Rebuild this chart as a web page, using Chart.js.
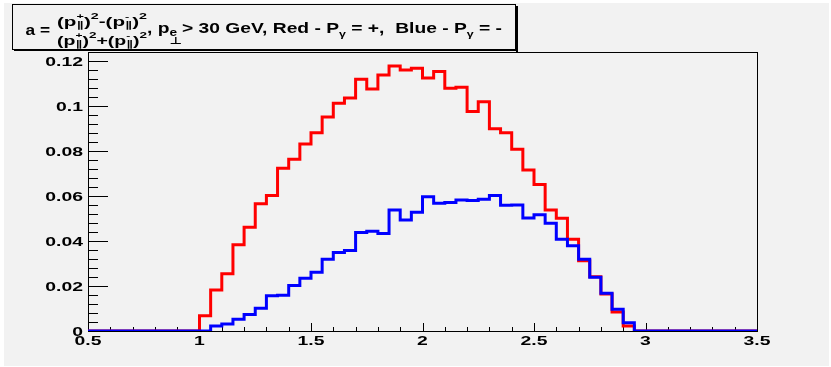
<!DOCTYPE html>
<html>
<head>
<meta charset="utf-8">
<script src="https://cdn.jsdelivr.net/npm/chart.js@4"></script>
<style>
  html, body { margin: 0; padding: 0; background: #ffffff; }
  canvas { display: block; }
</style>
</head>
<body>
<canvas id="asymChart" width="831" height="367"></canvas>
<script>
// Histogram binning: 60 bins of width 0.05 from 0.5 to 3.5
const xMin = 0.5;
const xMax = 3.5;
const binLow = Array.from({ length: 60 }, (_, i) => Math.round((xMin + i * 0.05) * 100) / 100);

// Red histogram (P_gamma = +), one value per bin
const redValues = [
    0, 0, 0, 0, 0, 0, 0, 0, 0, 0,
    0.0068, 0.0183, 0.0255, 0.0384, 0.0462, 0.0566, 0.0603, 0.0725, 0.0765, 0.0833,
    0.0883, 0.0953, 0.1014, 0.1037, 0.1121, 0.1077, 0.1140, 0.1180, 0.1162, 0.1170,
    0.1126, 0.1155, 0.1081, 0.1085, 0.0977, 0.1021, 0.0900, 0.0883, 0.0809, 0.0717,
    0.0652, 0.0539, 0.0502, 0.0408, 0.0313, 0.0242, 0.0165, 0.0085, 0.0022, 0,
    0, 0, 0, 0, 0, 0, 0, 0, 0, 0
];

// Blue histogram (P_gamma = -), one value per bin
const blueValues = [
    0, 0, 0, 0, 0, 0, 0, 0, 0, 0,
    0, 0.0022, 0.0031, 0.0052, 0.0074, 0.0101, 0.0157, 0.0159, 0.0203, 0.0235,
    0.0261, 0.0319, 0.0350, 0.0358, 0.0438, 0.0444, 0.0434, 0.0539, 0.0494, 0.0529,
    0.0598, 0.0569, 0.0572, 0.0583, 0.0581, 0.0587, 0.0603, 0.0560, 0.0561, 0.0503,
    0.0518, 0.0480, 0.0408, 0.0379, 0.0319, 0.0239, 0.0168, 0.0097, 0.0037, 0,
    0, 0, 0, 0, 0, 0, 0, 0, 0, 0
];

// Axis range and tick labels
const yMax = 0.1242;
const xTickValues = [0.5, 1, 1.5, 2, 2.5, 3, 3.5];
const xTickLabels = ['0.5', '1', '1.5', '2', '2.5', '3', '3.5'];
const yTickValues = [0, 0.02, 0.04, 0.06, 0.08, 0.1, 0.12];
const yTickLabels = ['0', '0.02', '0.04', '0.06', '0.08', '0.1', '0.12'];

const FONT_FAMILY = '"Liberation Sans", "DejaVu Sans", Arial, sans-serif';

// Turn bin contents into step points: value at each lower edge, plus the closing edge
function toSteps(values) {
    const pts = binLow.map((x, i) => ({ x: x, y: values[i] }));
    pts.push({ x: xMax, y: values[values.length - 1] });
    return pts;
}

// Draw text squeezed/stretched horizontally by sx
function drawScaledText(ctx, text, x, y, sx, align) {
    ctx.save();
    ctx.translate(x, y);
    ctx.scale(sx, 1);
    ctx.textAlign = align || 'left';
    ctx.fillText(text, 0, 0);
    ctx.restore();
}

// Lay out a list of text runs between x0 and x1 (sub/superscripts via dy, stacks for both)
function drawRuns(ctx, runs, x0, x1, baseline) {
    const widthOf = r => {
        ctx.font = `bold ${r.s}px ${FONT_FAMILY}`;
        return ctx.measureText(r.t).width;
    };
    const runWidth = r => r.stack ? Math.max(...r.stack.map(widthOf)) : widthOf(r);
    const total = runs.reduce((sum, r) => sum + runWidth(r), 0);
    const sx = (x1 - x0) / total;
    let x = x0;
    runs.forEach(r => {
        const parts = r.stack || [r];
        parts.forEach(p => {
            ctx.font = `bold ${p.s}px ${FONT_FAMILY}`;
            drawScaledText(ctx, p.t, x, baseline + (p.dy || 0), sx);
        });
        x += runWidth(r) * sx;
    });
}

// Background, frame, ticks, tick labels and the title box, ROOT style
const rootStyle = {
    id: 'rootStyle',
    beforeDraw(chart) {
        const ctx = chart.ctx;
        ctx.save();
        ctx.fillStyle = '#ffffff';
        ctx.fillRect(0, 0, chart.width, chart.height);
        ctx.fillStyle = '#f2f2f2';
        ctx.fillRect(4, 3, chart.width - 6, chart.height - 4);
        ctx.restore();
    },
    beforeDatasetsDraw(chart) {
        const ctx = chart.ctx;
        const a = chart.chartArea;
        const xs = chart.scales.x;
        const ys = chart.scales.y;
        ctx.save();
        ctx.strokeStyle = '#000000';
        ctx.lineWidth = 1;
        ctx.strokeRect(a.left + 0.5, a.top + 0.5, a.right - a.left, a.bottom - a.top);

        ctx.beginPath();
        // y ticks: major every 0.02, minor every 0.004
        for (let k = 0; k * 0.004 <= yMax + 1e-9; k++) {
            const py = Math.round(ys.getPixelForValue(k * 0.004)) + 0.5;
            const len = k % 5 === 0 ? 20 : 10;
            ctx.moveTo(a.left, py);
            ctx.lineTo(a.left + len, py);
        }
        // x ticks: major every 0.5, minor every 0.1
        for (let k = 0; k <= 30; k++) {
            const px = Math.round(xs.getPixelForValue(xMin + k * 0.1)) + 0.5;
            const len = k % 5 === 0 ? 8 : 4;
            ctx.moveTo(px, a.bottom);
            ctx.lineTo(px, a.bottom - len);
        }
        ctx.stroke();

        ctx.fillStyle = '#000000';
        ctx.font = `bold 12.5px ${FONT_FAMILY}`;
        yTickValues.forEach((v, i) => {
            drawScaledText(ctx, yTickLabels[i], a.left - 5, ys.getPixelForValue(v) + 4.5, 1.55, 'right');
        });
        xTickValues.forEach((v, i) => {
            drawScaledText(ctx, xTickLabels[i], xs.getPixelForValue(v), a.bottom + 14, 1.55, 'center');
        });
        ctx.restore();
    },
    afterDraw(chart) {
        const ctx = chart.ctx;
        ctx.save();
        // title box with shadow
        ctx.fillStyle = '#f2f2f2';
        ctx.fillRect(12, 4, 504, 46);
        ctx.fillStyle = '#000000';
        ctx.fillRect(516, 6, 2, 46);
        ctx.fillRect(14, 49, 504, 2);
        ctx.strokeStyle = '#000000';
        ctx.lineWidth = 1;
        ctx.strokeRect(12.5, 4.5, 503, 45);

        ctx.fillStyle = '#000000';
        drawRuns(ctx, [{ t: 'a =', s: 14 }], 25.5, 50, 35);

        const fracLine = (sign) => [
            { t: '(p', s: 13 },
            { stack: [{ t: '+', s: 8, dy: -7 }, { t: '\u2225', s: 9, dy: 2 }] },
            { t: ')', s: 13 },
            { t: '2', s: 9, dy: -7 },
            { t: sign, s: 13 },
            { t: '(p', s: 13 },
            { stack: [{ t: '-', s: 8, dy: -7 }, { t: '\u2225', s: 9, dy: 2 }] },
            { t: ')', s: 13 },
            { t: '2', s: 9, dy: -7 }
        ];
        drawRuns(ctx, fracLine('-'), 57, 147, 26);
        drawRuns(ctx, fracLine('+'), 57, 147, 45);

        drawRuns(ctx, [
            { t: ', p', s: 14 },
            { stack: [{ t: 'e', s: 10, dy: 3 }, { t: '\u22A5', s: 10, dy: 11 }] },
            { t: '> 30 GeV, Red - P', s: 14 },
            { t: '\u03B3', s: 9, dy: 4 },
            { t: ' = +,  Blue - P', s: 14 },
            { t: '\u03B3', s: 9, dy: 4 },
            { t: ' = -', s: 14 }
        ], 147, 502, 33);
        ctx.restore();
    }
};

const ctx = document.getElementById('asymChart').getContext('2d');
new Chart(ctx, {
    type: 'line',
    data: {
        datasets: [
            {
                label: 'Red - P = +',
                data: toSteps(redValues),
                borderColor: '#ff0000',
                order: 2
            },
            {
                label: 'Blue - P = -',
                data: toSteps(blueValues),
                borderColor: '#0000ff',
                order: 1
            }
        ]
    },
    options: {
        responsive: false,
        animation: false,
        devicePixelRatio: 1,
        layout: { padding: { left: 88, top: 52, right: 74, bottom: 36 } },
        elements: {
            point: { radius: 0, hoverRadius: 0 },
            line: { borderWidth: 3, stepped: 'before', tension: 0, fill: false, borderJoinStyle: 'miter', borderCapStyle: 'butt' }
        },
        scales: {
            x: { type: 'linear', min: xMin, max: xMax, display: false },
            y: { type: 'linear', min: 0, max: yMax, display: false }
        },
        plugins: {
            legend: { display: false },
            tooltip: { enabled: false }
        }
    },
    plugins: [rootStyle]
});
</script>
</body>
</html>
